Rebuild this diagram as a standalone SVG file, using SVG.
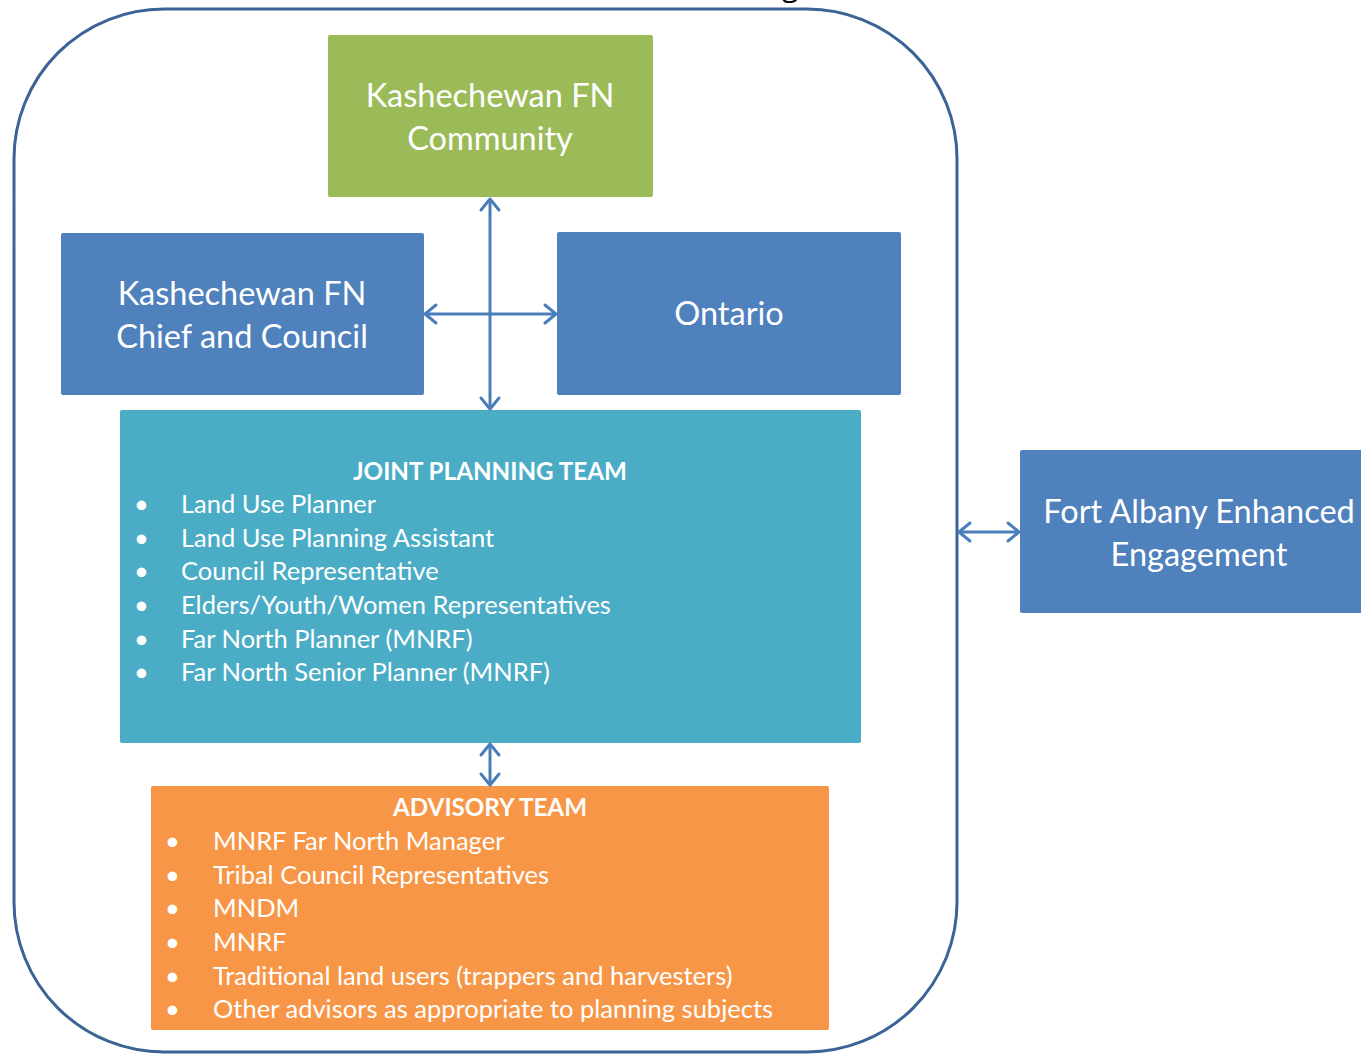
<svg xmlns="http://www.w3.org/2000/svg" width="1361" height="1054" viewBox="0 0 1361 1054">
<style>
.box{stroke:none}
.t{font-family:Lato,"Open Sans","Liberation Sans",sans-serif;fill:#ffffff}
.big{font-size:32.5px;text-anchor:middle}
.item{font-size:25.5px}
.head{font-size:24.2px;font-weight:bold;text-anchor:middle}
.conn{stroke:#4A7EBB;stroke-width:3;fill:none}
</style>
<defs>
<marker id="ah" markerUnits="userSpaceOnUse" markerWidth="24" markerHeight="24" viewBox="-14 -12 16 24" refX="0" refY="0" orient="auto-start-reverse">
<path d="M-11,-9 L0,0 L-11,9" fill="none" stroke="#4A7EBB" stroke-width="3" stroke-linecap="round" stroke-linejoin="round"/>
</marker>
</defs>
<rect width="1361" height="1054" fill="#ffffff"/>
<text x="782" y="-4" style="font-family:'Open Sans','Liberation Sans',sans-serif;font-size:30px;fill:#000">g</text>
<g id="frame">
<rect x="14" y="9" width="943" height="1043" rx="150" ry="150" fill="none" stroke="#3B6395" stroke-width="3"/>
</g>
<g id="community">
<rect class="box" x="328" y="35" width="325" height="162" rx="2" fill="#9BBB59"/>
<text class="t big" x="490" y="107">Kashechewan FN</text>
<text class="t big" x="490" y="150">Community</text>
</g>
<g id="chief">
<rect class="box" x="61" y="233" width="363" height="162" rx="2" fill="#4F81BD"/>
<text class="t big" x="242" y="305">Kashechewan FN</text>
<text class="t big" x="242" y="348">Chief and Council</text>
</g>
<g id="ontario">
<rect class="box" x="557" y="232" width="344" height="163" rx="2" fill="#4F81BD"/>
<text class="t big" x="729" y="325">Ontario</text>
</g>
<g id="joint">
<rect class="box" x="120" y="410" width="741" height="333" rx="2" fill="#4BACC6"/>
<text class="t head" x="490" y="480">JOINT PLANNING TEAM</text>
<g class="t item">
<text x="134" y="513">•</text><text x="181" y="513">Land Use Planner</text>
<text x="134" y="547">•</text><text x="181" y="547">Land Use Planning Assistant</text>
<text x="134" y="580">•</text><text x="181" y="580">Council Representative</text>
<text x="134" y="614">•</text><text x="181" y="614">Elders/Youth/Women  Representatives</text>
<text x="134" y="648">•</text><text x="181" y="648">Far North Planner (MNRF)</text>
<text x="134" y="681">•</text><text x="181" y="681">Far North Senior Planner (MNRF)</text>
</g>
</g>
<g id="advisory">
<rect class="box" x="151" y="786" width="678" height="244" rx="2" fill="#F79646"/>
<text class="t head" x="490" y="816">ADVISORY TEAM</text>
<g class="t item">
<text x="165" y="850">•</text><text x="213" y="850">MNRF Far North Manager</text>
<text x="165" y="884">•</text><text x="213" y="884">Tribal Council Representatives</text>
<text x="165" y="917">•</text><text x="213" y="917">MNDM</text>
<text x="165" y="951">•</text><text x="213" y="951">MNRF</text>
<text x="165" y="985">•</text><text x="213" y="985">Traditional land users (trappers and harvesters)</text>
<text x="165" y="1018">•</text><text x="213" y="1018">Other advisors as appropriate to planning subjects</text>
</g>
</g>
<g id="fortalbany">
<rect class="box" x="1020" y="450" width="345" height="163" rx="2" fill="#4F81BD"/>
<text class="t big" x="1199" y="523">Fort Albany Enhanced</text>
<text class="t big" x="1199" y="566">Engagement</text>
</g>
<g id="connectors">
<line class="conn" x1="490" y1="199" x2="490" y2="409" marker-start="url(#ah)" marker-end="url(#ah)"/>
<line class="conn" x1="425" y1="314" x2="556" y2="314" marker-start="url(#ah)" marker-end="url(#ah)"/>
<line class="conn" x1="959" y1="532" x2="1019" y2="532" marker-start="url(#ah)" marker-end="url(#ah)"/>
<line class="conn" x1="490" y1="744" x2="490" y2="785" marker-start="url(#ah)" marker-end="url(#ah)"/>
</g>
</svg>
